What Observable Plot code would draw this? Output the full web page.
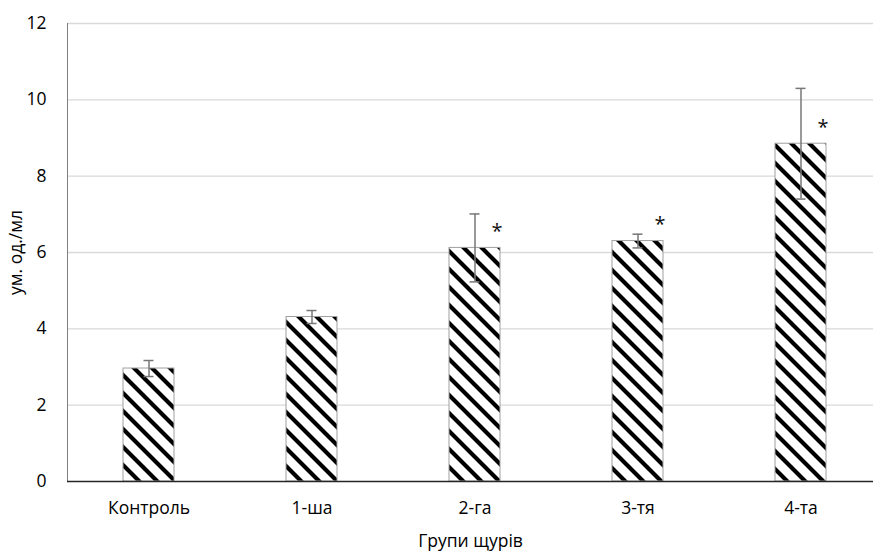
<!DOCTYPE html>
<html>
<head>
<meta charset="utf-8">
<script src="https://cdn.jsdelivr.net/npm/d3@7"></script>
<script src="https://cdn.jsdelivr.net/npm/@observablehq/plot@0.6"></script>
<style>
  html, body { margin: 0; padding: 0; background: #fff; }
  #chart svg { display: block; }
</style>
</head>
<body>
<div id="chart"></div>
<script>
const groups = ["Контроль", "1-ша", "2-га", "3-тя", "4-та"];
const means = [2.96, 4.31, 6.12, 6.30, 8.85];
const errors = [0.21, 0.17, 0.89, 0.18, 1.45];
const marks = ["", "", "*", "*", "*"];
const yTicks = [0, 2, 4, 6, 8, 10, 12];
const gridTicks = [2, 4, 6, 8, 10, 12];

const data = groups.map((g, i) => ({group: g, mean: means[i], err: errors[i], mark: marks[i]}));

const font = "'Open Sans', sans-serif";

const chart = Plot.plot({
  width: 873,
  height: 552,
  marginLeft: 67,
  marginRight: 0,
  marginTop: 23,
  marginBottom: 71,
  style: {fontFamily: font, fontSize: "17.5px", color: "#000", background: "#fff"},
  x: {domain: groups, range: [67, 883], paddingInner: 0.687, paddingOuter: 0.3435, align: 0.5},
  y: {domain: [0, 12], range: [481, 23]},
  marks: [
    Plot.ruleY(gridTicks, {stroke: "#d9d9d9", strokeWidth: 1.3}),
    Plot.barY(data, {x: "group", y: "mean", fill: "url(#hatch)", stroke: "#a0a0a0", strokeWidth: 1}),
    Plot.ruleX(data, {x: "group", y1: d => d.mean - d.err, y2: d => d.mean + d.err, stroke: "#777", strokeWidth: 1.5}),
    Plot.tickY(data, {x: "group", y: d => d.mean + d.err, stroke: "#777", strokeWidth: 1.5, insetLeft: 20.5, insetRight: 20.5}),
    Plot.tickY(data, {x: "group", y: d => d.mean - d.err, stroke: "#777", strokeWidth: 1.5, insetLeft: 20.5, insetRight: 20.5}),
    Plot.text(data, {x: "group", y: "mean", text: "mark", dx: 22, dy: -16, fontSize: 20, fill: "#111", lineAnchor: "middle"}),
    Plot.frame({anchor: "left", stroke: "#7f7f7f", strokeWidth: 1}),
    Plot.ruleY([0], {stroke: "#262626", strokeWidth: 1.6}),
    Plot.axisY({ticks: yTicks, tickSize: 0, tickPadding: 21, label: "ум. од./мл", labelAnchor: "center", labelArrow: "none", labelOffset: 58, fontSize: 17.5}),
    Plot.axisX({tickSize: 0, tickPadding: 20, label: "Групи щурів", labelAnchor: "center", labelArrow: "none", labelOffset: 65, fontSize: 17.5})
  ]
});

const svg = d3.select(chart);
const defs = svg.insert("defs", ":first-child");
const P = 18;
const pat = defs.append("pattern")
  .attr("id", "hatch")
  .attr("patternUnits", "userSpaceOnUse")
  .attr("width", P).attr("height", P);
pat.append("rect").attr("width", P).attr("height", P).attr("fill", "#fff");
pat.append("path")
  .attr("d", `M${-P / 2},${-P / 2} L${P * 1.5},${P * 1.5} M${-P / 2},${P / 2} L${P / 2},${P * 1.5} M${P / 2},${-P / 2} L${P * 1.5},${P / 2}`)
  .attr("stroke", "#000").attr("stroke-width", 4.2);

document.getElementById("chart").appendChild(chart);
</script>
</body>
</html>
